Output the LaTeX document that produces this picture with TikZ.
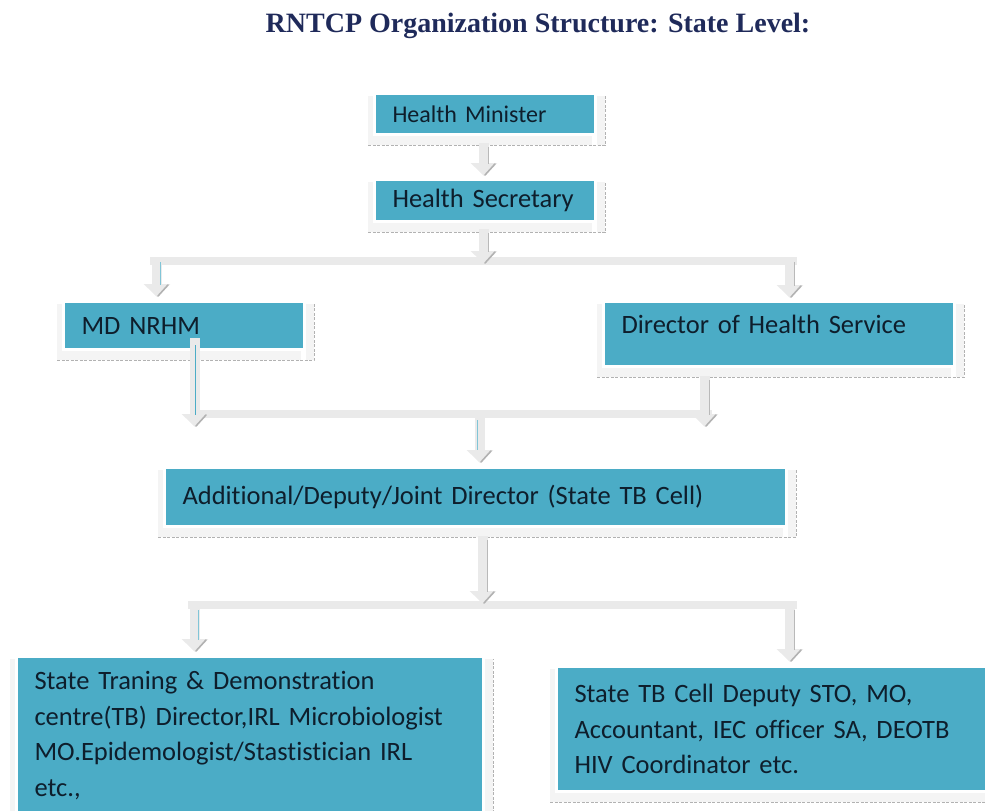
\documentclass[tikz,border=0pt]{standalone}
\usepackage{fontspec}
\setmainfont{Carlito}[Ligatures=NoCommon]
\newfontfamily\titlefont{Liberation Serif}
\usetikzlibrary{arrows.meta,backgrounds}
\definecolor{tealbox}{HTML}{4BACC6}
\definecolor{txt}{HTML}{0E1E2C}
\definecolor{navy}{HTML}{1F2A5A}
\definecolor{bandc}{HTML}{EAEAEA}
\newcommand{\boxshadow}[1]{%
  \fill[gray!9] ([shift={(-5,4)}]#1.north east) rectangle ([shift={(-5,9)}]#1.south west);
  \fill[gray!9] ([shift={(0,4)}]#1.north east) rectangle ([shift={(8,9)}]#1.south east);
  \draw[gray!60,line width=0.9pt,dash pattern=on 3pt off 1.5pt]
    ([shift={(-5,9)}]#1.south west) -- ([shift={(8,9)}]#1.south east) -- ([shift={(8,4)}]#1.north east);}
\begin{document}
\begin{tikzpicture}[x=1pt,y=-1pt,
  box/.style={draw=white, line width=3pt, fill=tealbox, anchor=north west,
    inner xsep=18pt, inner ysep=0pt, font=\fontsize{26.5}{35.5}\selectfont,
    text=txt, align=left},
  conn/.style={draw=bandc, line width=10pt, -{Triangle[width=26pt,length=13pt]}},
  bar/.style={draw=bandc, line width=8pt},
  thinl/.style={draw=#1, line width=0.8pt},
  slash/.style={draw=gray!60, line width=1.6pt, line cap=round},
]
\useasboundingbox (0,0) rectangle (985,811);

\node[font=\titlefont\bfseries\fontsize{28}{32}\selectfont, text=navy] (title) at (538,26)
  {RNTCP Organization Structure: State Level:};

\node[box, minimum width=221, minimum height=41, text width=185, font=\fontsize{24}{30}\selectfont] (hm) at (373,92) {Health Minister};
\node[box, minimum width=221, minimum height=42, text width=185] (hs) at (373,178) {Health Secretary};
\node[box, minimum width=241, minimum height=48, text width=205] (md) at (62,300) {MD NRHM};
\node[box, minimum width=351, minimum height=65, text width=315, text depth=20pt] (dhs) at (602,300) {Director of Health Service};
\node[box, minimum width=622, minimum height=59, text width=586] (add) at (163,466) {Additional/Deputy/Joint Director (State TB Cell)};
\node[box, minimum width=467, minimum height=158, text width=431] (bl) at (15,655)
  {State Traning \& Demonstration\\centre(TB) Director,IRL Microbiologist\\MO.Epidemologist/Stastistician IRL\\etc.,};
\node[box, minimum width=440, minimum height=125, text width=404] (br) at (555,665)
  {State TB Cell Deputy STO, MO,\\Accountant, IEC officer SA, DEOTB\\HIV Coordinator etc.};

\begin{pgfonlayer}{background}
  \boxshadow{hm}\boxshadow{hs}\boxshadow{md}\boxshadow{dhs}\boxshadow{add}\boxshadow{bl}\boxshadow{br}
\end{pgfonlayer}

% junction bars
\coordinate (b1l) at (150,261); \coordinate (b1r) at (797,261);
\coordinate (b2l) at (190,414); \coordinate (b2r) at (712,414);
\coordinate (b3l) at (188,605); \coordinate (b3r) at (797,605);
\draw[bar] (b1l) -- (b1r);
\draw[bar] (b2l) -- (b2r);
\draw[bar] (b3l) -- (b3r);

% connectors
\coordinate (hmb) at (484,143);
\coordinate (hsb) at (484,229);
\coordinate (mds) at (195,338);
\coordinate (dhb) at (705,376);
\coordinate (addb) at (483,536);
\draw[conn] (hmb) -- (484,176);
\draw[conn] (hsb) -- (484,264);
\draw[conn] (157,258) -- (157,297);
\draw[conn] (790,258) -- (790,298);
\draw[conn] (mds) -- (195,427);
\draw[conn] (dhb) -- (705,427);
\draw[conn] (480,417) -- (480,463);
\draw[conn] (addb) -- (483,604);
\draw[conn] (195,605) -- (195,652);
\draw[conn] (790,605) -- (790,662);
% thin inner lines
\draw[thinl=gray!55] (488,147) -- (488,164);
\draw[thinl=gray!55] (488,233) -- (488,252);
\draw[thinl=tealbox!70] (160,262) -- (160,285);
\draw[thinl=gray!55] (794,262) -- (794,286);
\draw[thinl=tealbox] (195,345) -- (195,415);
\draw[thinl=gray!55] (709,380) -- (709,415);
\draw[thinl=tealbox!70] (477,420) -- (477,450);
\draw[thinl=gray!55] (487,540) -- (487,592);
\draw[thinl=tealbox!70] (198,610) -- (198,640);
\draw[thinl=gray!55] (794,610) -- (794,650);
% dark right edges of arrow heads
\foreach \x/\y in {484/176, 484/264, 157/297, 790/298, 195/427, 705/427, 480/463, 483/604, 195/652, 790/662}
  \draw[slash] (\x+1,\y-1) -- (\x+11,\y-12);
\end{tikzpicture}
\end{document}
